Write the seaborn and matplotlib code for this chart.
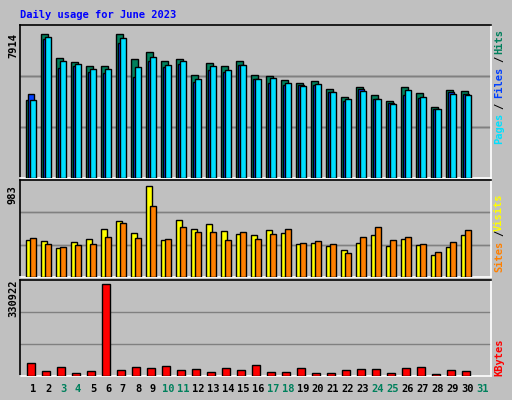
import numpy as np
import pandas as pd
import matplotlib
matplotlib.use("Agg")
import matplotlib.pyplot as plt
import seaborn as sns

days = np.arange(1, 31)
hits = [4290, 7914, 6610, 6380, 6160, 6160, 7914, 6560, 6920, 6430, 6560, 5670, 6320, 6160, 6430,
        5670, 5590, 5400, 5220, 5330, 4900, 4480, 5010, 4550, 4210, 5010, 4690, 3890, 4850, 4800]
files = [4610, 7660, 6050, 6150, 5820, 5760, 7400, 5550, 6410, 6090, 6250, 5280, 5930, 5820, 6200,
         5440, 5220, 5120, 5120, 5120, 4740, 4260, 4900, 4370, 4100, 4580, 4420, 3780, 4740, 4600]
pages = [4280, 7750, 6410, 6250, 5980, 5980, 7700, 6090, 6680, 6200, 6410, 5440, 6140, 5930, 6200,
         5440, 5500, 5220, 5060, 5170, 4740, 4370, 4800, 4320, 4050, 4850, 4480, 3780, 4640, 4580]
visits = [397, 386, 312, 376, 408, 514, 600, 472, 983, 397, 610, 514, 568, 493, 461,
          451, 504, 472, 355, 365, 333, 291, 365, 451, 333, 408, 344, 237, 323, 451]
sites = [418, 351, 323, 344, 351, 436, 578, 418, 766, 408, 543, 490, 490, 397, 483,
         408, 461, 514, 365, 386, 355, 255, 436, 536, 397, 436, 351, 266, 373, 504]
kbytes = [47300, 18200, 32700, 10900, 18200, 330922, 21800, 32700, 29100, 36400, 21800, 25500, 14600,
          29100, 21800, 40000, 14600, 14600, 29100, 10900, 10900, 21800, 25500, 25500, 10900, 29100,
          32700, 7300, 21800, 18200]
weekends = [3, 4, 10, 11, 17, 18, 24, 25, 31]

BG = "#C0C0C0"
sns.set_theme(style="white")
plt.rcParams["font.family"] = ["DejaVu Sans Mono"]

fig = plt.figure(figsize=(5.12, 4.0), dpi=100, facecolor=BG)


def panel(top, bottom):
    ax = fig.add_axes([20 / 512, 1 - bottom / 400, 471 / 512, (bottom - top) / 400])
    ax.set_facecolor(BG)
    for s in ["top", "left"]:
        ax.spines[s].set_color("black")
    for s in ["bottom", "right"]:
        ax.spines[s].set_color("white")
    for s in ax.spines.values():
        s.set_linewidth(1.2)
    return ax


def bars(ax, vals, off, width, color, top):
    sns.barplot(x=days + off, y=vals, native_scale=True, width=width, color=color,
                edgecolor="black", linewidth=1, saturation=1, ax=ax, zorder=3)
    ax.set_ylim(0, top)
    ax.set_xlim(0.133, 31.53)
    for f in (1 / 3, 2 / 3):
        ax.axhline(top * f, color="#808080", lw=1, zorder=1)
    ax.set_xticks([]); ax.set_yticks([])
    ax.set_xlabel(""); ax.set_ylabel("")


ax1 = panel(25, 178)
bars(ax1, hits, -0.22, 0.45, "#00805C", 7914 * 470 / 442)
bars(ax1, files, -0.13, 0.4, "#0040FF", 7914 * 470 / 442)
bars(ax1, pages, -0.01, 0.38, "#00E0FF", 7914 * 470 / 442)

ax2 = panel(180, 277)
bars(ax2, visits, -0.28, 0.38, "#FFFF00", 983 * 295 / 277)
bars(ax2, sites, -0.01, 0.38, "#FF8000", 983 * 295 / 277)

ax3 = panel(280, 376)
bars(ax3, kbytes, -0.11, 0.53, "#FF0000", 330922 * 285 / 273)


def txt(x, y, s, color, rot=0, ha="center", va="center"):
    fig.text(x / 512, 1 - y / 400, s, color=color, rotation=rot, ha=ha, va=va,
             fontsize=7.5, fontweight="bold")


txt(20, 15, "Daily usage for June 2023", "#0000FF", ha="left")
for d in range(1, 32):
    px = 33 + (d - 1) * 15
    txt(px, 389, str(d), "#00805C" if d in weekends else "black")

txt(13, 45, "7914", "black", rot=90)
txt(13, 195, "983", "black", rot=90)
txt(13, 298, "330922", "black", rot=90)

txt(499, 128, "Pages", "#00E0FF", rot=90)
txt(499, 106, "/", "black", rot=90)
txt(499, 82, "Files", "#0040FF", rot=90)
txt(499, 59, "/", "black", rot=90)
txt(499, 42, "Hits", "#00805C", rot=90)
txt(499, 256, "Sites", "#FF8000", rot=90)
txt(499, 233, "/", "black", rot=90)
txt(499, 212, "Visits", "#FFFF00", rot=90)
txt(499, 357, "KBytes", "#FF0000", rot=90)

fig.savefig("out.png", dpi=100, facecolor=BG)
